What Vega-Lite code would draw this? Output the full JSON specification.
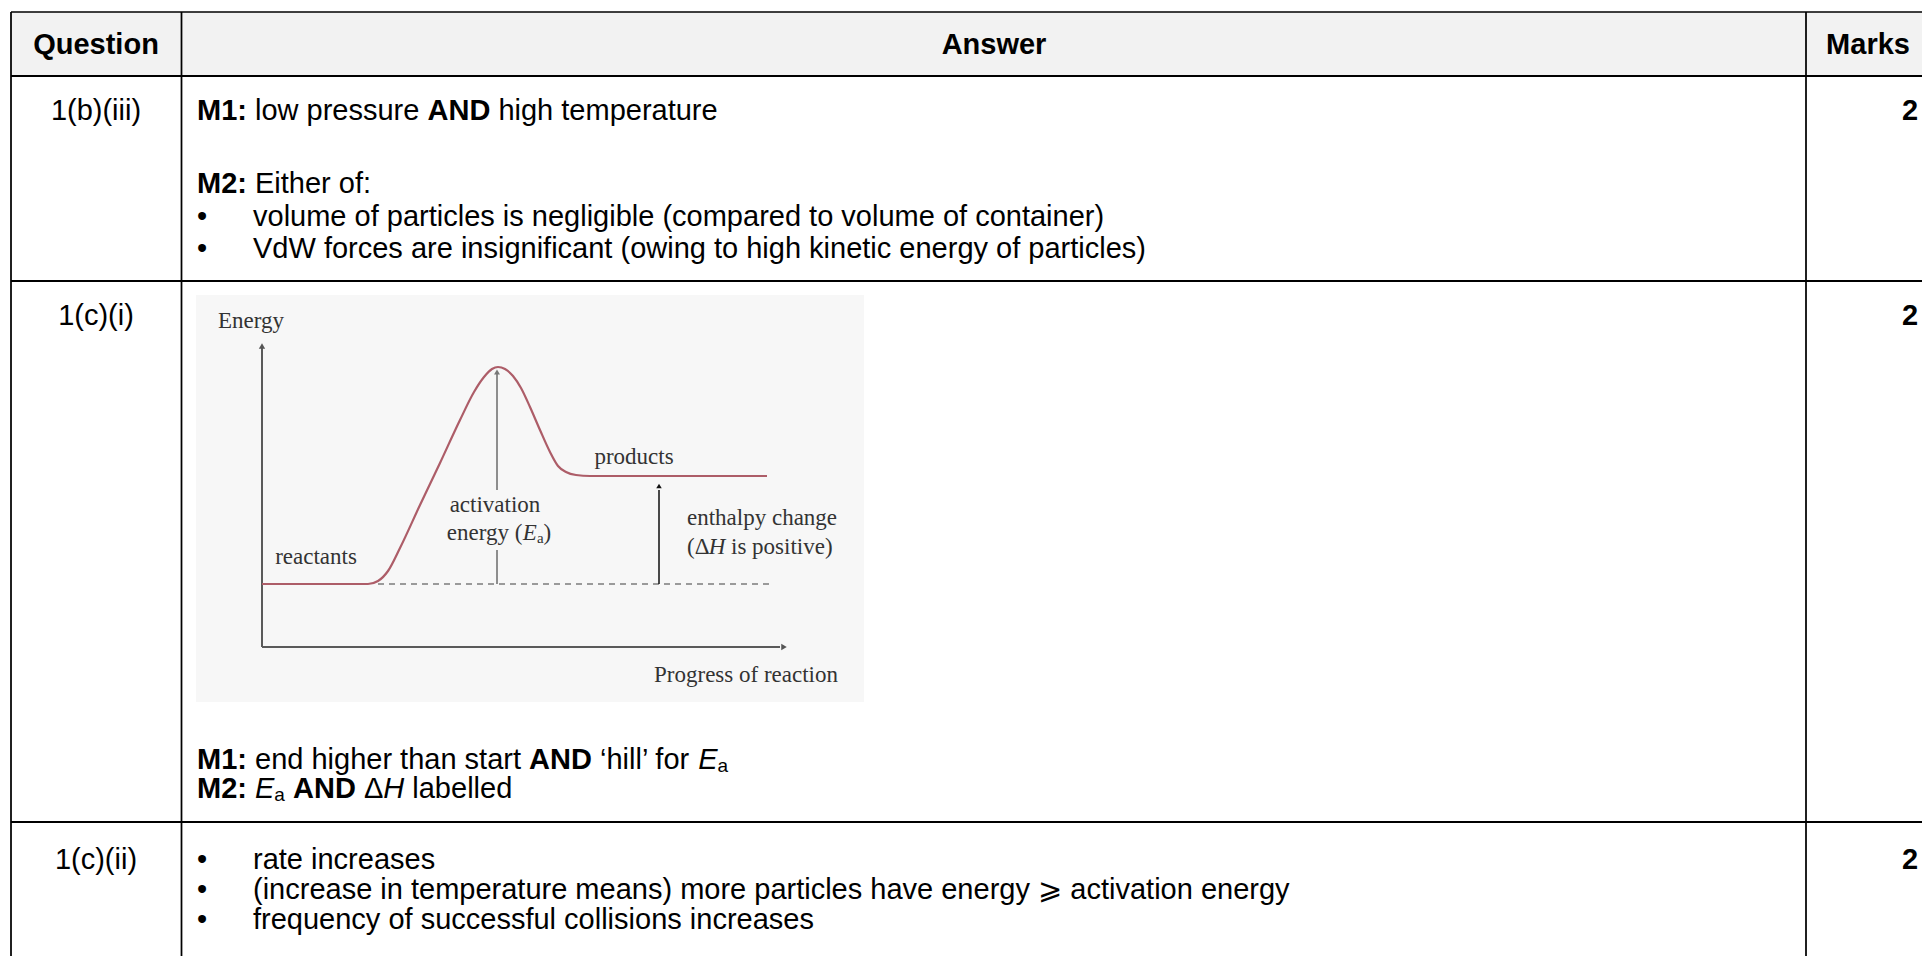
{
  "$schema": "https://vega.github.io/schema/vega-lite/v6.json",
  "width": 1922,
  "height": 956,
  "padding": 0,
  "autosize": {"type": "none"},
  "background": "#ffffff",
  "config": {"view": {"stroke": null}},
  "datasets": {
    "panels": [
      {"x": 11, "x2": 1922, "y": 12, "y2": 76, "kind": "header"},
      {"x": 196, "x2": 864, "y": 295, "y2": 702, "kind": "figure"}
    ],
    "grid": [
      {"x": 11, "x2": 1922, "y": 12, "y2": 12, "weight": "thin"},
      {"x": 11, "x2": 11, "y": 12, "y2": 956, "weight": "mid"},
      {"x": 181.5, "x2": 181.5, "y": 12, "y2": 956, "weight": "mid"},
      {"x": 1806, "x2": 1806, "y": 12, "y2": 956, "weight": "mid"},
      {"x": 11, "x2": 1922, "y": 76, "y2": 76, "weight": "thick"},
      {"x": 11, "x2": 1922, "y": 281, "y2": 281, "weight": "thick"},
      {"x": 11, "x2": 1922, "y": 822, "y2": 822, "weight": "thick"}
    ],
    "strokes": [
      {"x": 262, "x2": 262, "y": 348, "y2": 647, "part": "axis"},
      {"x": 262, "x2": 780, "y": 647, "y2": 647, "part": "axis"},
      {"x": 378, "x2": 769, "y": 584, "y2": 584, "part": "baseline"},
      {"x": 497, "x2": 497, "y": 374, "y2": 490, "part": "ea"},
      {"x": 497, "x2": 497, "y": 550, "y2": 584, "part": "ea"},
      {"x": 659, "x2": 659, "y": 490, "y2": 584, "part": "dh"}
    ],
    "curve": [
      {"x": 262, "y": 584}, {"x": 300, "y": 584}, {"x": 340, "y": 584}, {"x": 368, "y": 584},
      {"x": 378, "y": 581}, {"x": 388, "y": 571}, {"x": 400, "y": 548}, {"x": 420, "y": 505},
      {"x": 440, "y": 463}, {"x": 460, "y": 420}, {"x": 474, "y": 392}, {"x": 484, "y": 377},
      {"x": 492, "y": 369}, {"x": 498, "y": 367}, {"x": 505, "y": 369}, {"x": 513, "y": 376},
      {"x": 521, "y": 388}, {"x": 530, "y": 407}, {"x": 540, "y": 430}, {"x": 550, "y": 452},
      {"x": 558, "y": 466}, {"x": 566, "y": 472}, {"x": 576, "y": 475}, {"x": 590, "y": 476},
      {"x": 650, "y": 476}, {"x": 720, "y": 476}, {"x": 767, "y": 476}
    ],
    "heads": [
      {"x": 262, "y": 346, "dir": "up", "part": "axis"},
      {"x": 784, "y": 647, "dir": "right", "part": "axis"},
      {"x": 497, "y": 372, "dir": "up", "part": "ea"},
      {"x": 659, "y": 486, "dir": "up", "part": "dh"}
    ],
    "cells": [
      {"x": 96, "y": 45, "text": "Question", "role": "head"},
      {"x": 994, "y": 45, "text": "Answer", "role": "head"},
      {"x": 1868, "y": 45, "text": "Marks", "role": "head"},
      {"x": 96, "y": 111, "text": "1(b)(iii)", "role": "qid"},
      {"x": 96, "y": 316, "text": "1(c)(i)", "role": "qid"},
      {"x": 96, "y": 860, "text": "1(c)(ii)", "role": "qid"},
      {"x": 1902, "y": 111, "text": "2", "role": "key"},
      {"x": 1902, "y": 316, "text": "2", "role": "key"},
      {"x": 1902, "y": 860, "text": "2", "role": "key"},
      {"x": 197, "y": 111, "text": "M1:", "role": "key"},
      {"x": 255, "y": 111, "text": "low pressure", "role": "body"},
      {"x": 427.5, "y": 111, "text": "AND", "role": "key"},
      {"x": 498.4, "y": 111, "text": "high temperature", "role": "body"},
      {"x": 197, "y": 184, "text": "M2:", "role": "key"},
      {"x": 255, "y": 184, "text": "Either of:", "role": "body"},
      {"x": 197, "y": 217, "text": "•", "role": "body"},
      {"x": 253, "y": 217, "text": "volume of particles is negligible (compared to volume of container)", "role": "body"},
      {"x": 197, "y": 249, "text": "•", "role": "body"},
      {"x": 253, "y": 249, "text": "VdW forces are insignificant (owing to high kinetic energy of particles)", "role": "body"},
      {"x": 197, "y": 760, "text": "M1:", "role": "key"},
      {"x": 255, "y": 760, "text": "end higher than start", "role": "body"},
      {"x": 529, "y": 760, "text": "AND", "role": "key"},
      {"x": 600, "y": 760, "text": "‘hill’ for", "role": "body"},
      {"x": 698.3, "y": 760, "text": "E", "role": "var"},
      {"x": 717.6, "y": 766, "text": "a", "role": "sub"},
      {"x": 197, "y": 789, "text": "M2:", "role": "key"},
      {"x": 255, "y": 789, "text": "E", "role": "var"},
      {"x": 274.3, "y": 795, "text": "a", "role": "sub"},
      {"x": 293, "y": 789, "text": "AND", "role": "key"},
      {"x": 363.9, "y": 789, "text": "Δ", "role": "body"},
      {"x": 383.3, "y": 789, "text": "H", "role": "var"},
      {"x": 412.3, "y": 789, "text": "labelled", "role": "body"},
      {"x": 197, "y": 860, "text": "•", "role": "body"},
      {"x": 253, "y": 860, "text": "rate increases", "role": "body"},
      {"x": 197, "y": 890, "text": "•", "role": "body"},
      {"x": 253, "y": 890, "text": "(increase in temperature means) more particles have energy ⩾ activation energy", "role": "body"},
      {"x": 197, "y": 920, "text": "•", "role": "body"},
      {"x": 253, "y": 920, "text": "frequency of successful collisions increases", "role": "body"}
    ],
    "figtext": [
      {"x": 251, "y": 321, "text": "Energy", "role": "c"},
      {"x": 634, "y": 457, "text": "products", "role": "c"},
      {"x": 316, "y": 557, "text": "reactants", "role": "c"},
      {"x": 495, "y": 505, "text": "activation", "role": "c"},
      {"x": 746, "y": 675, "text": "Progress of reaction", "role": "c"},
      {"x": 687, "y": 518, "text": "enthalpy change", "role": "l"},
      {"x": 687, "y": 547, "text": "(Δ", "role": "l"},
      {"x": 708.7, "y": 547, "text": "H", "role": "var"},
      {"x": 731, "y": 547, "text": "is positive)", "role": "l"},
      {"x": 446.8, "y": 533, "text": "energy (", "role": "l"},
      {"x": 522.8, "y": 533, "text": "E", "role": "var"},
      {"x": 536.9, "y": 538, "text": "a", "role": "sub"},
      {"x": 543.6, "y": 533, "text": ")", "role": "l"}
    ]
  },
  "encoding": {
    "x": {"field": "x", "type": "quantitative", "scale": {"domain": [0, 1922], "nice": false, "zero": false}, "axis": null},
    "y": {"field": "y", "type": "quantitative", "scale": {"domain": [0, 956], "nice": false, "zero": false, "reverse": true}, "axis": null}
  },
  "layer": [
    {
      "data": {"name": "panels"},
      "mark": {"type": "rect"},
      "encoding": {
        "x2": {"field": "x2"},
        "y2": {"field": "y2"},
        "color": {"field": "kind", "type": "nominal", "scale": {"domain": ["header", "figure"], "range": ["#f2f2f2", "#f7f7f7"]}, "legend": null}
      }
    },
    {
      "data": {"name": "grid"},
      "mark": {"type": "rule", "color": "#000000"},
      "encoding": {
        "x2": {"field": "x2"},
        "y2": {"field": "y2"},
        "strokeWidth": {"field": "weight", "type": "ordinal", "scale": {"domain": ["thin", "mid", "thick"], "range": [1.5, 2, 3]}, "legend": null}
      }
    },
    {
      "data": {"name": "strokes"},
      "mark": {"type": "rule"},
      "encoding": {
        "x2": {"field": "x2"},
        "y2": {"field": "y2"},
        "color": {"field": "part", "type": "nominal", "scale": {"domain": ["axis", "baseline", "ea", "dh"], "range": ["#5a5a5a", "#9a9a9a", "#7a7a7a", "#111111"]}, "legend": null},
        "strokeWidth": {"field": "part", "type": "ordinal", "scale": {"domain": ["axis", "baseline", "ea", "dh"], "range": [2, 1.5, 1.5, 3.5]}, "legend": null},
        "strokeDash": {"field": "part", "type": "nominal", "scale": {"domain": ["axis", "baseline", "ea", "dh"], "range": [[1, 0], [6, 5], [1, 0], [1, 0]]}, "legend": null}
      }
    },
    {
      "data": {"name": "curve"},
      "mark": {"type": "line", "interpolate": "monotone", "color": "#ad5d68", "strokeWidth": 2.2},
      "encoding": {}
    },
    {
      "data": {"name": "heads"},
      "mark": {"type": "point", "filled": true, "opacity": 1},
      "encoding": {
        "shape": {"field": "dir", "type": "nominal", "scale": {"domain": ["up", "right"], "range": ["triangle-up", "triangle-right"]}, "legend": null},
        "color": {"field": "part", "type": "nominal", "scale": {"domain": ["axis", "ea", "dh"], "range": ["#555555", "#777777", "#111111"]}, "legend": null},
        "size": {"field": "part", "type": "ordinal", "scale": {"domain": ["axis", "ea", "dh"], "range": [40, 30, 110]}, "legend": null}
      }
    },
    {
      "data": {"name": "cells"},
      "transform": [{"filter": "datum.role === 'head'"}],
      "mark": {"type": "text", "align": "center", "baseline": "middle", "font": "Liberation Sans, Arial, sans-serif", "fontSize": 29, "fontWeight": "bold", "color": "#000000"},
      "encoding": {"text": {"field": "text"}}
    },
    {
      "data": {"name": "cells"},
      "transform": [{"filter": "datum.role === 'qid'"}],
      "mark": {"type": "text", "align": "center", "baseline": "middle", "font": "Liberation Sans, Arial, sans-serif", "fontSize": 29, "color": "#000000"},
      "encoding": {"text": {"field": "text"}}
    },
    {
      "data": {"name": "cells"},
      "transform": [{"filter": "datum.role === 'key'"}],
      "mark": {"type": "text", "align": "left", "baseline": "middle", "font": "Liberation Sans, Arial, sans-serif", "fontSize": 29, "fontWeight": "bold", "color": "#000000"},
      "encoding": {"text": {"field": "text"}}
    },
    {
      "data": {"name": "cells"},
      "transform": [{"filter": "datum.role === 'body'"}],
      "mark": {"type": "text", "align": "left", "baseline": "middle", "font": "Liberation Sans, DejaVu Sans, sans-serif", "fontSize": 29, "color": "#000000"},
      "encoding": {"text": {"field": "text"}}
    },
    {
      "data": {"name": "cells"},
      "transform": [{"filter": "datum.role === 'var'"}],
      "mark": {"type": "text", "align": "left", "baseline": "middle", "font": "Liberation Sans, Arial, sans-serif", "fontSize": 29, "fontStyle": "italic", "color": "#000000"},
      "encoding": {"text": {"field": "text"}}
    },
    {
      "data": {"name": "cells"},
      "transform": [{"filter": "datum.role === 'sub'"}],
      "mark": {"type": "text", "align": "left", "baseline": "middle", "font": "Liberation Sans, Arial, sans-serif", "fontSize": 19, "color": "#000000"},
      "encoding": {"text": {"field": "text"}}
    },
    {
      "data": {"name": "figtext"},
      "transform": [{"filter": "datum.role === 'c'"}],
      "mark": {"type": "text", "align": "center", "baseline": "middle", "font": "Liberation Serif, Times New Roman, serif", "fontSize": 23, "color": "#333333"},
      "encoding": {"text": {"field": "text"}}
    },
    {
      "data": {"name": "figtext"},
      "transform": [{"filter": "datum.role === 'l'"}],
      "mark": {"type": "text", "align": "left", "baseline": "middle", "font": "Liberation Serif, Times New Roman, serif", "fontSize": 23, "color": "#333333"},
      "encoding": {"text": {"field": "text"}}
    },
    {
      "data": {"name": "figtext"},
      "transform": [{"filter": "datum.role === 'var'"}],
      "mark": {"type": "text", "align": "left", "baseline": "middle", "font": "Liberation Serif, Times New Roman, serif", "fontSize": 23, "fontStyle": "italic", "color": "#333333"},
      "encoding": {"text": {"field": "text"}}
    },
    {
      "data": {"name": "figtext"},
      "transform": [{"filter": "datum.role === 'sub'"}],
      "mark": {"type": "text", "align": "left", "baseline": "middle", "font": "Liberation Serif, Times New Roman, serif", "fontSize": 15, "color": "#333333"},
      "encoding": {"text": {"field": "text"}}
    }
  ],
  "resolve": {"scale": {"color": "independent", "strokeWidth": "independent", "strokeDash": "independent", "size": "independent", "shape": "independent"}}
}
